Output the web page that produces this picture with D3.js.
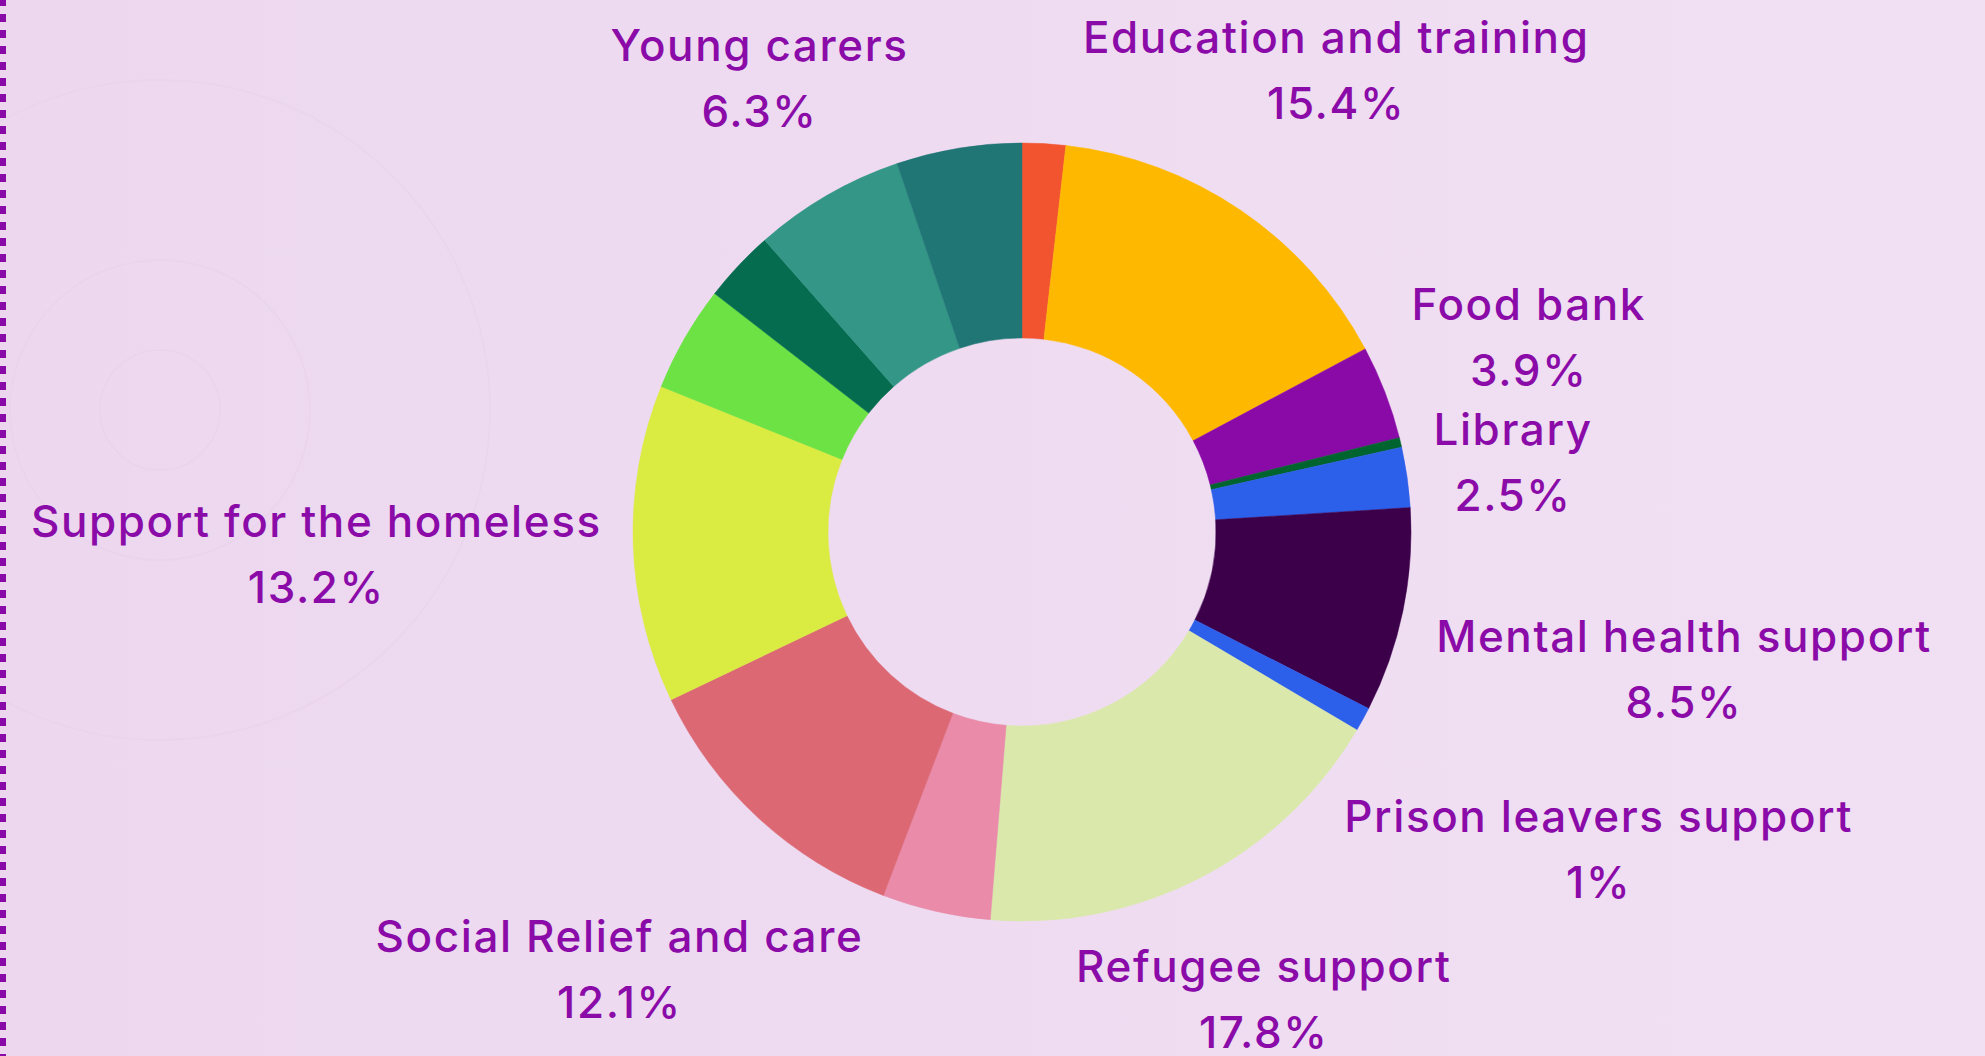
<!DOCTYPE html>
<html>
<head>
<meta charset="utf-8">
<script src="https://cdn.jsdelivr.net/npm/d3@7"></script>
<style>
  html, body { margin: 0; padding: 0; background: #EDD9F0; }
  svg { display: block; }
</style>
</head>
<body>
<div id="chart"></div>
<script>
// slices, clockwise from 12 o'clock
const categories = [
  'Other (orange)', 'Education and training', 'Food bank', 'Other (dark green)',
  'Library', 'Mental health support', 'Prison leavers support', 'Refugee support',
  'Other (pink)', 'Social Relief and care', 'Support for the homeless',
  'Other (green)', 'Other (forest)', 'Young carers', 'Other (teal)'
];
const values = [1.8, 15.4, 3.9, 0.4, 2.5, 8.5, 1, 17.8, 4.5, 12.1, 13.2, 4.4, 3.0, 6.3, 5.2];
const showLabel = [false, true, true, false, true, true, true, true, false, true, true, false, false, true, false];
const colors = [
  '#F25430', '#FFB800', '#8A0AA8', '#00642F', '#2C5FEA', '#3C004B', '#2C5FEA', '#DAE8AC',
  '#E98BA9', '#DC6874', '#DAEB41', '#6CE244', '#066C4F', '#339686', '#207575'
];
// distance of each label block from the centre (layout only)
const labelDist = [0, 559, 543, 0, 496, 676, 658, 526, 0, 594, 706, 0, 0, 524, 0];

const W = 1985, H = 1056;
const cx = 1022, cy = 532;
const outerR = 389, innerR = 194;
const textColor = '#8A0BA8';

const svg = d3.select('#chart').append('svg').attr('width', W).attr('height', H);

// background
const defs = svg.append('defs');
const bg = defs.append('linearGradient').attr('id', 'bg').attr('x1', 0).attr('x2', 1).attr('y1', 0).attr('y2', 0);
bg.append('stop').attr('offset', 0).attr('stop-color', '#ECD7EF');
bg.append('stop').attr('offset', 1).attr('stop-color', '#F1E0F3');
svg.append('rect').attr('width', W).attr('height', H).attr('fill', 'url(#bg)');

// faint decorative rings
const rings = svg.append('g').attr('fill', 'none').attr('stroke', '#E6CFEA').attr('stroke-width', 1.5).attr('opacity', 0.35);
[60, 150, 330].forEach(r => rings.append('circle').attr('cx', 160).attr('cy', 410).attr('r', r));

// dotted left border
svg.append('line')
  .attr('x1', 3).attr('x2', 3).attr('y1', 0).attr('y2', H)
  .attr('stroke', '#8A0AA8').attr('stroke-width', 6)
  .attr('stroke-dasharray', '8 8').attr('stroke-dashoffset', 2);

const data = categories.map((c, i) => ({ name: c, value: values[i], color: colors[i], show: showLabel[i], dist: labelDist[i] }));

const pie = d3.pie().value(d => d.value).sort(null);
const arc = d3.arc().innerRadius(innerR).outerRadius(outerR);
const arcs = pie(data);

const mainG = svg.append('g').attr('transform', `translate(${cx},${cy})`);

mainG.selectAll('path').data(arcs).join('path')
  .attr('d', arc)
  .attr('fill', d => d.data.color)
  .attr('stroke', d => d.data.color)
  .attr('stroke-width', 0.5);

// labels
const labels = mainG.append('g').selectAll('g').data(arcs.filter(d => d.data.show)).join('g')
  .attr('transform', d => {
    const a = (d.startAngle + d.endAngle) / 2;
    return `translate(${Math.sin(a) * d.data.dist},${-Math.cos(a) * d.data.dist})`;
  })
  .attr('fill', textColor)
  .attr('font-family', 'Inter, "Open Sans", sans-serif')
  .attr('font-size', 44)
  .attr('font-weight', 500)
  .attr('letter-spacing', 1.6)
  .attr('text-anchor', 'middle')
  .attr('dominant-baseline', 'central');

labels.append('text').attr('y', -33).text(d => d.data.name);
labels.append('text').attr('y', 33).text(d => `${d.data.value}%`);
</script>
</body>
</html>
